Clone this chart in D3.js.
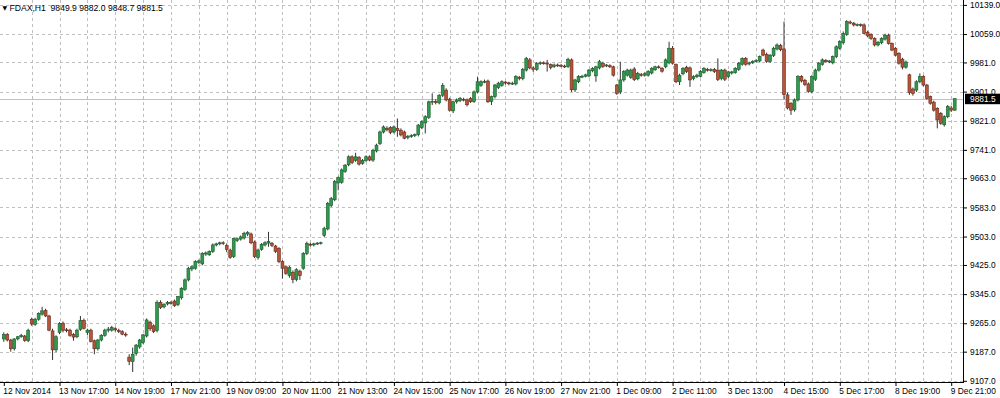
<!DOCTYPE html>
<html>
<head>
<meta charset="utf-8">
<script src="https://cdnjs.cloudflare.com/ajax/libs/d3/7.8.5/d3.min.js"></script>
<style>
  html, body { margin: 0; padding: 0; background: #fff; }
  svg { display: block; font-family: "Liberation Sans", Arial, sans-serif; }
</style>
</head>
<body>
<div id="chart"></div>
<script>
// FDAX H1, 12 Nov 2014 15:00 .. 9 Dec 2014 22:00 (14 bars a day, 09:00-22:00)
var opens = [
  9222, 9234, 9219, 9195, 9222, 9228, 9230, 9217,
  9276, 9262, 9276, 9290, 9300, 9285, 9244, 9192, 9240, 9265, 9247, 9246, 9234, 9228,
  9248, 9272, 9240, 9246, 9217, 9195, 9219, 9232, 9246, 9246, 9250, 9245, 9242, 9235,
  9172, 9160, 9182, 9200, 9212, 9230, 9268, 9258, 9245, 9322, 9310, 9318, 9322, 9326,
  9316, 9335, 9358, 9384, 9414, 9416, 9432, 9428, 9455, 9453, 9462, 9480, 9483, 9486,
  9478, 9466, 9448, 9492, 9496, 9499, 9510, 9510, 9488, 9446, 9468, 9480, 9485, 9484,
  9477, 9470, 9434, 9420, 9396, 9405, 9385, 9408, 9416, 9457, 9482, 9480, 9483, 9484,
  9506, 9524, 9588, 9604, 9650, 9652, 9682, 9700, 9722, 9712, 9720, 9704, 9712, 9722,
  9713, 9738, 9758, 9790, 9800, 9802, 9790, 9800, 9795, 9790, 9775, 9778, 9780, 9783,
  9802, 9815, 9830, 9872, 9874, 9870, 9891, 9905, 9880, 9848, 9873, 9876, 9880, 9878,
  9882, 9874, 9900, 9918, 9928, 9930, 9874, 9887, 9912, 9918, 9927, 9925, 9923, 9922,
  9940, 9937, 9960, 9988, 9966, 9962, 9978, 9980, 9979, 9975, 9970, 9974, 9973, 9971,
  9970, 9988, 9906, 9928, 9942, 9943, 9944, 9958, 9944, 9966, 9979, 9972, 9972, 9969,
  9919, 9900, 9933, 9946, 9940, 9963, 9936, 9948, 9946, 9946, 9952, 9961, 9969, 9965,
  9969, 9980, 10020, 9975, 9928, 9950, 9968, 9966, 9937, 9942, 9943, 9953, 9962, 9960,
  9962, 9960, 9937, 9960, 9942, 9952, 9953, 9962, 9976, 9992, 9977, 9980, 9984, 9985,
  10015, 10003, 9984, 10000, 10018, 10028, 10018, 9892, 9868, 9851, 9878, 9942, 9932, 9922,
  9901, 9935, 9960, 9976, 9987, 9983, 9980, 9997, 10020, 10035, 10058, 10092, 10089, 10084,
  10085, 10084, 10064, 10058, 10047, 10029, 10035, 10045, 10056, 10033, 10020, 10006, 9990, 9968,
  9947, 9908, 9905, 9928, 9942, 9919, 9887, 9872, 9855, 9841, 9810, 9832, 9856, 9849.9
];
var highs = [
  9240, 9238, 9222, 9224, 9230, 9236, 9233, 9250,
  9280, 9280, 9295, 9310, 9305, 9288, 9250, 9232, 9268, 9270, 9252, 9250, 9238, 9250,
  9285, 9278, 9250, 9250, 9220, 9222, 9235, 9250, 9255, 9258, 9254, 9250, 9246, 9240,
  9180, 9198, 9208, 9222, 9236, 9278, 9272, 9262, 9328, 9328, 9320, 9326, 9326, 9330,
  9340, 9364, 9388, 9420, 9424, 9438, 9440, 9460, 9462, 9465, 9484, 9486, 9489, 9490,
  9484, 9470, 9500, 9500, 9506, 9516, 9518, 9514, 9492, 9470, 9485, 9490, 9516, 9488,
  9480, 9474, 9438, 9424, 9422, 9410, 9416, 9412, 9460, 9489, 9486, 9486, 9488, 9489,
  9530, 9598, 9612, 9658, 9668, 9690, 9702, 9726, 9726, 9733, 9724, 9716, 9726, 9726,
  9744, 9758, 9794, 9808, 9806, 9806, 9808, 9827, 9800, 9794, 9782, 9784, 9786, 9812,
  9822, 9836, 9876, 9896, 9880, 9894, 9924, 9910, 9884, 9876, 9882, 9886, 9884, 9882,
  9886, 9904, 9942, 9932, 9934, 9934, 9890, 9922, 9928, 9932, 9930, 9928, 9928, 9946,
  9944, 9966, 9996, 9993, 9970, 9982, 9984, 9984, 9988, 9978, 9978, 9978, 9977, 9975,
  9994, 9992, 9936, 9946, 9947, 9950, 9963, 9968, 9972, 9988, 9983, 9977, 9976, 9972,
  9922, 9983, 9960, 9964, 9964, 9968, 9955, 9952, 9954, 9960, 9968, 9972, 9973, 9968,
  9992, 10038, 10026, 9978, 9950, 9968, 9972, 9970, 9946, 9950, 9960, 9968, 9966, 9965,
  9966, 9992, 9963, 9964, 9958, 9958, 9968, 9982, 9995, 9996, 9983, 9987, 9990, 10000,
  10019, 10008, 10004, 10024, 10033, 10032, 10093, 9898, 9872, 9882, 9946, 9946, 9936, 9926,
  9946, 9964, 9982, 9992, 9990, 9988, 10000, 10028, 10042, 10066, 10097, 10096, 10092, 10088,
  10088, 10088, 10068, 10061, 10050, 10040, 10050, 10060, 10060, 10036, 10023, 10009, 9994, 9986,
  9950, 9912, 9932, 9951, 9946, 9922, 9890, 9876, 9858, 9845, 9836, 9864, 9862, 9882.0
];
var lows = [
  9214, 9215, 9187, 9190, 9218, 9225, 9214, 9213,
  9258, 9258, 9272, 9286, 9282, 9243, 9164, 9186, 9235, 9240, 9240, 9228, 9217, 9224,
  9244, 9248, 9232, 9212, 9180, 9190, 9215, 9228, 9240, 9242, 9242, 9238, 9232, 9228,
  9150, 9131, 9176, 9195, 9208, 9226, 9244, 9238, 9240, 9304, 9306, 9314, 9316, 9310,
  9312, 9330, 9354, 9380, 9408, 9412, 9428, 9424, 9450, 9450, 9458, 9476, 9479, 9480,
  9460, 9442, 9444, 9488, 9492, 9495, 9504, 9482, 9444, 9440, 9464, 9476, 9475, 9474,
  9458, 9430, 9388, 9398, 9390, 9375, 9380, 9384, 9412, 9452, 9476, 9476, 9480, 9481,
  9502, 9520, 9584, 9600, 9630, 9648, 9678, 9696, 9702, 9708, 9698, 9700, 9708, 9710,
  9708, 9734, 9754, 9786, 9792, 9784, 9786, 9777, 9778, 9770, 9770, 9774, 9776, 9778,
  9798, 9786, 9826, 9864, 9866, 9866, 9886, 9874, 9846, 9842, 9868, 9872, 9874, 9860,
  9870, 9870, 9896, 9914, 9924, 9870, 9864, 9882, 9908, 9914, 9920, 9918, 9919, 9918,
  9932, 9932, 9956, 9962, 9955, 9958, 9974, 9975, 9956, 9962, 9966, 9969, 9968, 9966,
  9966, 9900, 9900, 9924, 9938, 9940, 9940, 9954, 9928, 9962, 9966, 9968, 9966, 9942,
  9892, 9894, 9928, 9942, 9936, 9930, 9932, 9942, 9942, 9942, 9948, 9958, 9964, 9953,
  9965, 9976, 9975, 9924, 9919, 9946, 9952, 9914, 9932, 9938, 9940, 9950, 9956, 9956,
  9952, 9930, 9932, 9930, 9938, 9948, 9950, 9958, 9972, 9972, 9973, 9977, 9981, 9981,
  9998, 9980, 9980, 9996, 10014, 10012, 9880, 9852, 9837, 9846, 9874, 9926, 9916, 9898,
  9896, 9930, 9956, 9972, 9980, 9979, 9976, 9993, 10016, 10030, 10054, 10086, 10080, 10080,
  10079, 10058, 10050, 10043, 10025, 10025, 10031, 10041, 10030, 10012, 9998, 9975, 9962, 9964,
  9892, 9890, 9900, 9924, 9915, 9879, 9865, 9846, 9800, 9810, 9805, 9828, 9845, 9848.7
];
var closes = [
  9234, 9219, 9195, 9222, 9228, 9232, 9218, 9246,
  9263, 9276, 9292, 9299, 9285, 9246, 9192, 9228, 9264, 9246, 9245, 9232, 9227, 9246,
  9272, 9251, 9246, 9215, 9195, 9219, 9232, 9246, 9249, 9253, 9247, 9242, 9235, 9233,
  9160, 9180, 9205, 9219, 9233, 9274, 9250, 9242, 9322, 9308, 9316, 9322, 9320, 9313,
  9338, 9361, 9384, 9416, 9420, 9434, 9436, 9457, 9458, 9462, 9480, 9483, 9486, 9484,
  9468, 9445, 9498, 9497, 9502, 9512, 9514, 9486, 9448, 9466, 9482, 9486, 9489, 9479,
  9462, 9434, 9416, 9402, 9418, 9385, 9412, 9396, 9457, 9484, 9480, 9483, 9485, 9486,
  9525, 9594, 9607, 9654, 9665, 9686, 9699, 9722, 9706, 9722, 9702, 9712, 9722, 9713,
  9740, 9754, 9790, 9804, 9796, 9789, 9804, 9794, 9782, 9773, 9778, 9780, 9783, 9809,
  9818, 9832, 9873, 9874, 9871, 9891, 9918, 9878, 9850, 9873, 9878, 9882, 9879, 9865,
  9873, 9900, 9928, 9928, 9929, 9873, 9887, 9919, 9924, 9928, 9925, 9923, 9924, 9942,
  9937, 9962, 9992, 9966, 9962, 9978, 9980, 9979, 9978, 9967, 9974, 9973, 9971, 9970,
  9989, 9906, 9933, 9942, 9943, 9947, 9960, 9964, 9969, 9983, 9970, 9974, 9969, 9946,
  9896, 9933, 9956, 9960, 9960, 9934, 9951, 9946, 9950, 9956, 9965, 9969, 9968, 9957,
  9988, 10020, 9979, 9928, 9946, 9965, 9956, 9933, 9942, 9946, 9956, 9965, 9960, 9961,
  9956, 9934, 9960, 9935, 9955, 9955, 9965, 9979, 9992, 9976, 9980, 9984, 9986, 9997,
  10001, 9984, 10001, 10020, 10029, 10016, 9893, 9856, 9850, 9878, 9942, 9930, 9920, 9901,
  9942, 9960, 9979, 9988, 9983, 9985, 9997, 10024, 10038, 10061, 10093, 10089, 10084, 10085,
  10083, 10061, 10054, 10047, 10029, 10036, 10047, 10056, 10033, 10015, 10001, 9979, 9968, 9982,
  9898, 9896, 9928, 9942, 9919, 9882, 9869, 9850, 9823, 9814, 9832, 9860, 9850, 9881.5
];

// time labels sit every 16 bars, starting at bar 0
var timeLabels = ['12 Nov 2014', '13 Nov 17:00', '14 Nov 19:00', '17 Nov 21:00', '19 Nov 09:00',
  '20 Nov 11:00', '21 Nov 13:00', '24 Nov 15:00', '25 Nov 17:00', '26 Nov 19:00', '27 Nov 21:00',
  '1 Dec 09:00', '2 Dec 11:00', '3 Dec 13:00', '4 Dec 15:00', '5 Dec 17:00', '8 Dec 19:00', '9 Dec 21:00'];
var priceTicks = [10139, 10059, 9981, 9901, 9821, 9741, 9663, 9583, 9503, 9425, 9345, 9265, 9187, 9107];
var symbol = 'FDAX,H1';

var w = 1000, h = 398;
var plotRight = 963, plotBottom = 382;
var bull = '#2f9a4e', bullEdge = '#1a5a2c';
var bear = '#b5553a', bearEdge = '#6a2a1a';
var gridColor = '#c0c0c0';

var n = closes.length;
var last = n - 1;

var svg = d3.select('#chart')
    .append('svg')
        .attr('width', w)
        .attr('height', h);

svg.append('rect').attr('width', w).attr('height', h).attr('fill', '#fff');

var x = d3.scaleLinear().domain([0, last]).range([3.8, 954.7]);
var y = d3.scaleLinear().domain([9107, 10139]).range([380.8, 4.9]);

function crisp(v) { return Math.round(v) + 0.5; }

// grid
var grid = svg.append('g').attr('stroke', gridColor).attr('stroke-dasharray', '3,3');
grid.selectAll('line.v')
    .data(d3.range(8, n, 8))
    .enter()
    .append('line')
        .attr('class', 'v')
        .attr('x1', function (d) { return crisp(x(d)); })
        .attr('x2', function (d) { return crisp(x(d)); })
        .attr('y1', 0)
        .attr('y2', plotBottom);
grid.selectAll('line.h')
    .data(priceTicks)
    .enter()
    .append('line')
        .attr('class', 'h')
        .attr('x1', 0)
        .attr('x2', plotRight)
        .attr('y1', function (d) { return crisp(y(d)); })
        .attr('y2', function (d) { return crisp(y(d)); });

// bid line at the last close
svg.append('line')
    .attr('x1', 0).attr('x2', plotRight)
    .attr('y1', crisp(y(closes[last]))).attr('y2', crisp(y(closes[last])))
    .attr('stroke', gridColor);

// candles
var bars = d3.range(n);
var candles = svg.append('g');

candles.selectAll('line')
    .data(bars)
    .enter()
    .append('line')
        .attr('x1', function (i) { return x(i); })
        .attr('x2', function (i) { return x(i); })
        .attr('y1', function (i) { return y(Math.max(highs[i], opens[i], closes[i])); })
        .attr('y2', function (i) { return y(Math.min(lows[i], opens[i], closes[i])); })
        .attr('stroke', '#333')
        .attr('stroke-width', 1);

candles.selectAll('rect')
    .data(bars)
    .enter()
    .append('rect')
        .attr('x', function (i) { return x(i) - 1.45; })
        .attr('width', 2.9)
        .attr('y', function (i) { return y(Math.max(opens[i], closes[i])); })
        .attr('height', function (i) { return Math.max(0.9, Math.abs(y(opens[i]) - y(closes[i]))); })
        .attr('fill', function (i) { return closes[i] >= opens[i] ? bull : bear; })
        .attr('stroke', function (i) { return closes[i] >= opens[i] ? bullEdge : bearEdge; })
        .attr('stroke-width', 0.6);

// axes
var fontSize = '8.4px';

var yAxis = d3.axisRight(y)
    .tickValues(priceTicks)
    .tickSize(4)
    .tickPadding(3)
    .tickFormat(d3.format('.1f'));
var gy = svg.append('g').attr('transform', 'translate(' + plotRight + ',0)').call(yAxis);
gy.select('.domain').remove();
gy.selectAll('line').attr('stroke', '#000');
gy.selectAll('text').attr('fill', '#000').style('font-size', fontSize).attr('font-family', null);

var labelBars = d3.range(0, n, 16);
var xAxis = d3.axisBottom(x)
    .tickValues(labelBars)
    .tickSize(4)
    .tickPadding(2)
    .tickFormat(function (d, i) { return timeLabels[i]; });
var gx = svg.append('g').attr('transform', 'translate(0,' + plotBottom + ')').call(xAxis);
gx.select('.domain').remove();
gx.selectAll('line').attr('stroke', '#000');
gx.selectAll('text')
    .attr('fill', '#000')
    .attr('text-anchor', 'start')
    .attr('x', -1)
    .style('font-size', fontSize)
    .attr('font-family', null);

// frame: right scale line and bottom line
svg.append('line').attr('x1', plotRight + 0.5).attr('x2', plotRight + 0.5)
    .attr('y1', 0).attr('y2', plotBottom + 1).attr('stroke', '#000');
svg.append('line').attr('x1', 0).attr('x2', plotRight + 1)
    .attr('y1', plotBottom + 0.5).attr('y2', plotBottom + 0.5).attr('stroke', '#000');

// last price tag (covers the lower half of the 9901.0 label, as in MT4)
var tagY = y(closes[last]);
svg.append('rect')
    .attr('x', plotRight + 2).attr('y', tagY - 5)
    .attr('width', 35).attr('height', 10.5)
    .attr('fill', '#000');
svg.append('text')
    .attr('x', plotRight + 7).attr('y', tagY)
    .attr('dy', '0.35em')
    .attr('fill', '#fff')
    .style('font-size', fontSize)
    .text(d3.format('.1f')(closes[last]));

// header
svg.append('text')
    .attr('x', 2.5).attr('y', 9.5)
    .style('font-size', '6px')
    .attr('font-family', 'DejaVu Sans')
    .attr('fill', '#000')
    .text('\u25BC');
svg.append('text')
    .attr('x', 9.5).attr('y', 10.5)
    .style('font-size', '8.6px')
    .style('white-space', 'pre')
    .attr('fill', '#000')
    .text(symbol + '  ' + [opens[last], highs[last], lows[last], closes[last]].map(d3.format('.1f')).join(' '));
</script>
</body>
</html>
